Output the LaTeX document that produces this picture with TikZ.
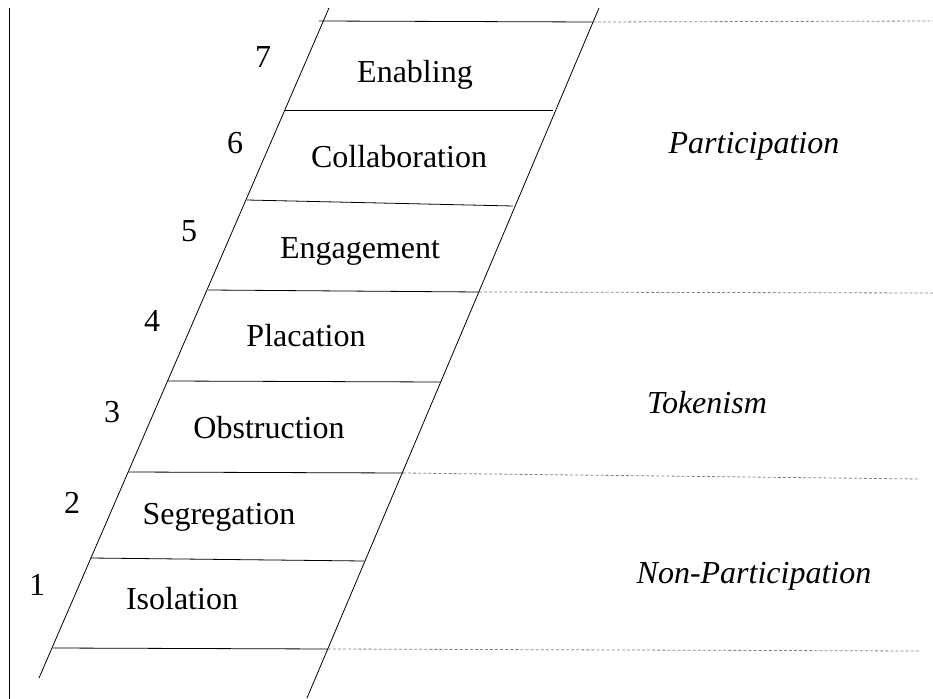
\documentclass[tikz,border=0pt]{standalone}
\usepackage{fontspec}
\setmainfont{Liberation Serif}

\begin{document}
\begin{tikzpicture}[
        x = 0.75pt, y = -0.75pt,
        rail/.style    = {draw, line width=0.6pt},
        divider/.style = {draw=gray, line width=0.6pt, dash pattern=on 2.2pt off 1.6pt},
        every node/.style = {inner sep=0pt, outer sep=0pt, anchor=base, font=\fontsize{24}{28}\selectfont},
        zone/.style    = {font=\fontsize{24}{28}\selectfont\itshape}
    ]
        \useasboundingbox (0,0) rectangle (933,699);
%
        \coordinate (axt) at (9.5,8);
        \coordinate (axb) at (9.5,699);
        \draw[rail] (axt) -- (axb);
%
        \coordinate (lt) at (329,8);
        \coordinate (lb) at (39,678);
        \coordinate (rt) at (599,8);
        \coordinate (rb) at (307,698);
        \draw[rail] (lt) -- (lb);
        \draw[rail] (rt) -- (rb);
%
        \coordinate (l0) at (53,648);   \coordinate (r0) at (328,649);
        \coordinate (l1) at (90,558);   \coordinate (r1) at (364,561);
        \coordinate (l2) at (128,472);  \coordinate (r2) at (403,473);
        \coordinate (l3) at (168,381);  \coordinate (r3) at (441,382);
        \coordinate (l4) at (208,290);  \coordinate (r4) at (479,292);
        \coordinate (l5) at (247,200);  \coordinate (r5) at (513,206);
        \coordinate (l6) at (285,110);  \coordinate (r6) at (553,110);
        \coordinate (l7) at (319,21);   \coordinate (r7) at (593,22);
        \foreach \i in {0,...,7}
            \draw[rail] (l\i) -- (r\i);
%
        \coordinate (e7) at (933,21);
        \coordinate (e4) at (933,293);
        \coordinate (e2) at (920,479);
        \coordinate (e0) at (920,651);
        \draw[divider] (r7) -- (e7);
        \draw[divider] (r4) -- (e4);
        \draw[divider] (r2) -- (e2);
        \draw[divider] (r0) -- (e0);
%
        \node (s7) at (415,83)  {Enabling};
        \node (s6) at (399,167) {Collaboration};
        \node (s5) at (360,258) {Engagement};
        \node (s4) at (306,346) {Placation};
        \node (s3) at (269,438) {Obstruction};
        \node (s2) at (219,524) {Segregation};
        \node (s1) at (182,609) {Isolation};
%
        \node (n7) at (263,68)  {7};
        \node (n6) at (235,153) {6};
        \node (n5) at (189,242) {5};
        \node (n4) at (152,331) {4};
        \node (n3) at (112,422) {3};
        \node (n2) at (72,513)  {2};
        \node (n1) at (37,595)  {1};
%
        \node[zone] (zp) at (754,153) {Participation};
        \node[zone] (zt) at (707,413) {Tokenism};
        \node[zone] (zn) at (754,583) {Non-Participation};
    \end{tikzpicture}
\end{document}
